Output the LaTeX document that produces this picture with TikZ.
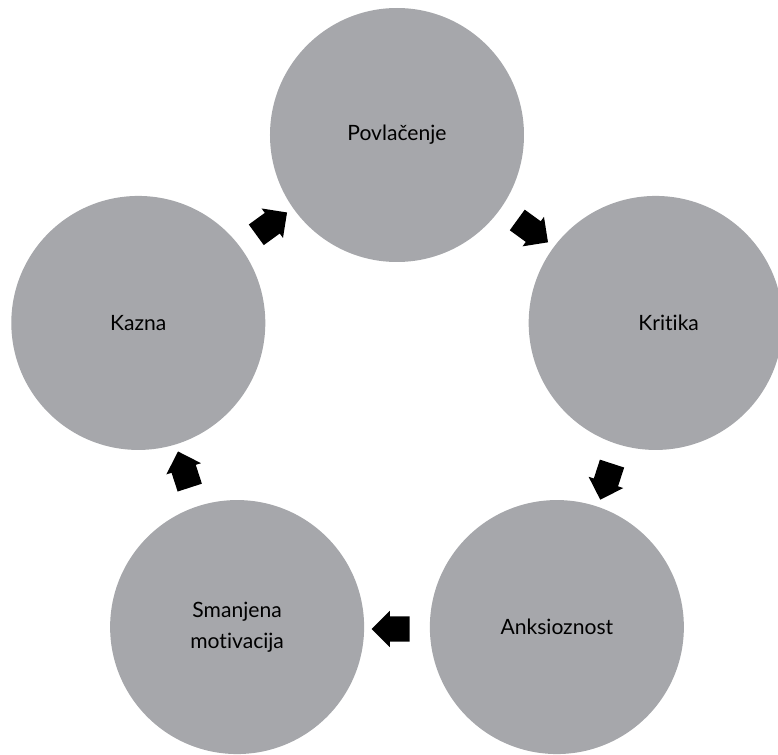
\documentclass[tikz,border=0pt]{standalone}
\usepackage{fontspec}
\setmainfont{Lato}[Ligatures=NoCommon]
\usetikzlibrary{shapes.arrows}
\definecolor{bubblegray}{RGB}{166,167,171}
\tikzset{bubble/.style={circle,fill=bubblegray,minimum size=7.62cm,inner sep=0pt,align=center,font=\fontsize{18}{27}\selectfont},
cyclearrow/.style={single arrow,fill=black,minimum height=1.14cm,inner xsep=0.2cm,inner ysep=0.375cm,single arrow head extend=0.165cm}}
\begin{document}
\begin{tikzpicture}
\def\R{8.16}
\def\r{6.66}
\useasboundingbox (-11.91,-10.44) rectangle (11.43,12.21);
        % circles of the cycle
        \node[bubble] (povlacenje) at (90:\R) {Povlačenje};
        \node[bubble] (kritika) at (18:\R) {\hspace*{0.78cm}Kritika};
        \node[bubble] (anksioznost) at (-54:\R) {Anksioznost};
        \node[bubble] (motivacija) at (-126:\R) {Smanjena\\motivacija};
        \node[bubble] (kazna) at (162:\R) {Kazna};
        % arrows between them
        \node[cyclearrow,rotate=-36] (a1) at (54:\r) {};
        \node[cyclearrow,rotate=-108] (a2) at (-18:\r) {};
        \node[cyclearrow,rotate=180] (a3) at (-90:\r) {};
        \node[cyclearrow,rotate=108] (a4) at (198:\r) {};
        \node[cyclearrow,rotate=36] (a5) at (126:\r) {};
\end{tikzpicture}
\end{document}
